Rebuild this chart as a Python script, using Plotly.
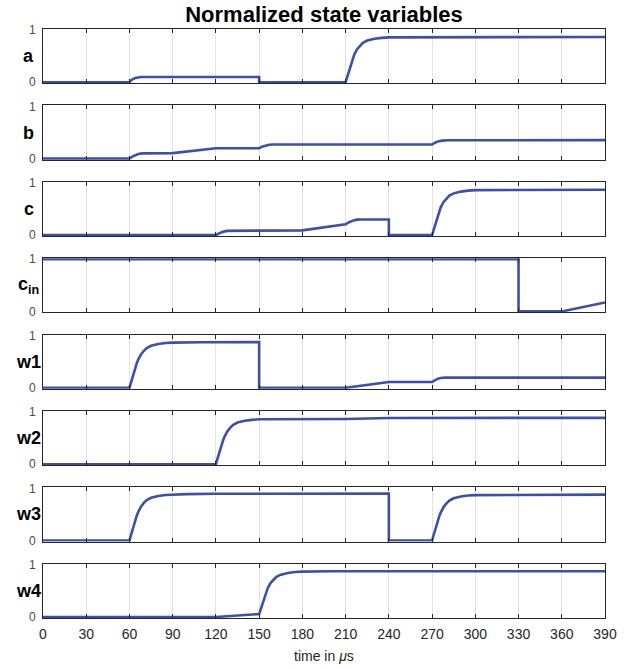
import plotly.graph_objects as go

# ---------------- data (time in microseconds, normalized values) ----------------
t_a = [0, 60, 61, 62, 64, 66, 68, 150, 150, 210, 211, 212, 213, 214, 215, 216, 218, 220, 222, 225, 230, 235, 240, 390]
a = [0, 0, 0.03, 0.055, 0.08, 0.093, 0.1, 0.1, 0, 0, 0.095, 0.2, 0.295, 0.38, 0.46, 0.53, 0.633, 0.702, 0.754, 0.798, 0.832, 0.85, 0.86, 0.867]

t_b = [0, 60, 62, 64, 66, 69, 90, 120, 150, 152, 154, 157, 160, 270, 272, 274, 277, 281, 390]
b = [0, 0, 0.04, 0.07, 0.09, 0.1, 0.105, 0.2, 0.2, 0.23, 0.25, 0.265, 0.27, 0.27, 0.305, 0.33, 0.345, 0.352, 0.355]

t_c = [0, 120, 121, 122, 124, 126, 128, 180, 210, 212, 214, 216, 218, 220, 240, 240, 270, 271, 272, 273, 274, 275, 276, 278, 280, 282, 285, 290, 295, 300, 390]
c = [0, 0, 0.015, 0.03, 0.055, 0.07, 0.08, 0.09, 0.205, 0.24, 0.265, 0.285, 0.295, 0.298, 0.298, 0, 0, 0.095, 0.2, 0.295, 0.38, 0.46, 0.53, 0.633, 0.702, 0.754, 0.798, 0.832, 0.85, 0.86, 0.868]

t_cin = [0, 330, 330, 360, 390]
cin = [1, 1, 0, 0, 0.17]

t_w1 = [0, 60, 61, 62, 63, 64, 65, 66, 68, 70, 72, 75, 80, 85, 90, 110, 150, 150, 210, 240, 270, 271, 272, 274, 276, 279, 390]
w1 = [0, 0, 0.096, 0.201, 0.298, 0.385, 0.464, 0.534, 0.639, 0.709, 0.761, 0.805, 0.84, 0.858, 0.866, 0.873, 0.875, 0, 0, 0.11, 0.11, 0.13, 0.15, 0.175, 0.187, 0.195, 0.195]

t_w2 = [0, 120, 121, 122, 123, 124, 125, 126, 128, 130, 132, 135, 140, 145, 150, 210, 240, 390]
w2 = [0, 0, 0.095, 0.2, 0.294, 0.381, 0.459, 0.528, 0.632, 0.701, 0.753, 0.797, 0.831, 0.849, 0.86, 0.866, 0.885, 0.887]

t_w3 = [0, 60, 61, 62, 63, 64, 65, 66, 68, 70, 72, 75, 80, 85, 90, 100, 120, 150, 240, 240, 270, 271, 272, 273, 274, 275, 276, 278, 280, 282, 285, 290, 295, 300, 390]
w3 = [0, 0, 0.098, 0.205, 0.303, 0.392, 0.472, 0.543, 0.65, 0.721, 0.774, 0.819, 0.854, 0.872, 0.881, 0.889, 0.896, 0.9, 0.9, 0, 0, 0.097, 0.202, 0.299, 0.387, 0.466, 0.537, 0.642, 0.713, 0.765, 0.81, 0.845, 0.862, 0.871, 0.88]

t_w4 = [0, 120, 150, 151, 152, 153, 154, 155, 156, 158, 160, 162, 165, 170, 175, 180, 200, 390]
w4 = [0, 0, 0.055, 0.145, 0.244, 0.334, 0.416, 0.49, 0.556, 0.654, 0.72, 0.769, 0.81, 0.843, 0.86, 0.868, 0.874, 0.876]

panel_labels = ["<b>a</b>", "<b>b</b>", "<b>c</b>", "<b>c<sub>in</sub></b>",
                "<b>w1</b>", "<b>w2</b>", "<b>w3</b>", "<b>w4</b>"]
x_ticks = [0, 30, 60, 90, 120, 150, 180, 210, 240, 270, 300, 330, 360, 390]
y_ticks = [0, 1]

series = [(t_a, a), (t_b, b), (t_c, c), (t_cin, cin),
          (t_w1, w1), (t_w2, w2), (t_w3, w3), (t_w4, w4)]

# ---------------- layout geometry ----------------
W, H = 639, 668
ML, MR, MT, MB = 43, 34, 29, 50
plot_h = H - MT - MB
panel_h = 54.3
n = len(series)
step = (plot_h - panel_h) / (n - 1)

FONT = "Liberation Sans, Arial, Helvetica, sans-serif"
LINE = "#3A50AB"
AX = "#262626"

fig = go.Figure()
layout = dict(
    width=W, height=H,
    margin=dict(l=ML, r=MR, t=MT, b=MB),
    paper_bgcolor="white", plot_bgcolor="white",
    showlegend=False,
    font=dict(family=FONT, color=AX),
    title=dict(text="<b>Normalized state variables</b>", x=0.5, xref="paper",
               xanchor="center", y=1 - 14 / H, yref="container", yanchor="middle",
               font=dict(size=22, color="#000000", family=FONT)),
)
annotations = []

for i, ((tx, vy), lab) in enumerate(zip(series, panel_labels)):
    k = i + 1
    xa = "x" if k == 1 else f"x{k}"
    ya = "y" if k == 1 else f"y{k}"
    top = min(1.0, max(0.0, 1 - (i * step) / plot_h))
    bot = min(1.0, max(0.0, top - panel_h / plot_h))
    fig.add_trace(go.Scatter(x=tx, y=vy, mode="lines", xaxis=xa, yaxis=ya,
                             line=dict(color=LINE, width=2.6), hoverinfo="skip"))
    layout["xaxis" if k == 1 else f"xaxis{k}"] = dict(
        domain=[0, 1], anchor=ya, range=[0, 390], tickvals=x_ticks,
        showticklabels=(k == n), ticks="inside", ticklen=4, tickwidth=1, tickcolor=AX,
        showline=True, linecolor=AX, linewidth=1, mirror="ticks",
        showgrid=True, gridcolor="#e3e3e3", gridwidth=1, zeroline=False,
        ticklabelstandoff=3,
        tickfont=dict(size=14, color=AX, family=FONT),
        **({} if k == 1 else {"matches": "x"}),
    )
    layout["yaxis" if k == 1 else f"yaxis{k}"] = dict(
        domain=[bot, top], anchor=xa, range=[-0.02, 1.02], tickvals=y_ticks,
        ticks="", showline=True, linecolor=AX, linewidth=1, mirror=True,
        showgrid=False, zeroline=False, ticklabelstandoff=4,
        tickfont=dict(size=12, color="#4a4a4a", family=FONT),
    )
    annotations.append(dict(text=lab, xref="paper", yref="paper",
                            x=(28.5 - ML) / (W - ML - MR), y=(top + bot) / 2,
                            xanchor="center", yanchor="middle", showarrow=False,
                            font=dict(size=18, color="#000000", family=FONT)))

annotations.append(dict(text="time in <i>μ</i>s", xref="paper", yref="paper",
                        x=0.5, y=-(656 - (H - MB)) / plot_h, xanchor="center",
                        yanchor="middle", showarrow=False,
                        font=dict(size=14, color=AX, family=FONT)))
layout["annotations"] = annotations
fig.update_layout(**layout)
fig.write_html("out.html", config={"displayModeBar": False},
               post_script="document.body.style.margin='0px';document.body.style.padding='0px';")
